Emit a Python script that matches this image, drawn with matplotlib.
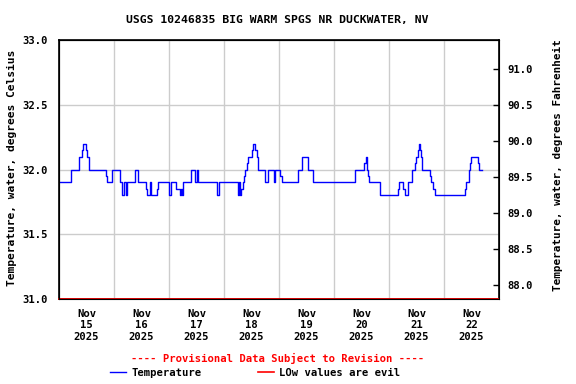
import matplotlib
matplotlib.use("Agg")
import matplotlib.pyplot as plt
import matplotlib.dates as mdates
from matplotlib.ticker import FixedLocator, FuncFormatter
import numpy as np
from datetime import datetime, timedelta

# ---- data ----
title = "USGS 10246835 BIG WARM SPGS NR DUCKWATER, NV"
start_time = datetime(2025, 11, 15, 0, 0)
end_time = datetime(2025, 11, 23, 0, 0)
# hours after start at which the reading changes, and the new value (deg C)
change_hours = [0, 5.2, 8.8, 9.9, 10.4, 11.6, 12.1, 12.9, 20.6, 20.9, 23.1, 26.4,
                27.7, 28.3, 29.2, 29.8, 33.0, 34.4, 37.9, 38.5, 39.5, 40.2, 42.6,
                43.4, 48.2, 48.9, 50.9, 52.6, 53.2, 53.6, 53.9, 57.7, 59.4, 60.0,
                60.5, 68.9, 69.6, 78.3, 78.7, 79.0, 79.5, 80.1, 80.6, 81.2, 82.1,
                82.4, 84.1, 84.7, 85.4, 86.2, 86.7, 89.7, 91.4, 93.7, 94.4, 96.6,
                97.2, 104.2, 105.9, 108.6, 110.7, 129.2, 133.3, 133.9, 134.2,
                134.8, 135.2, 140.1, 147.8, 148.3, 150.2, 150.8, 152.1, 153.9,
                155.4, 155.9, 156.6, 157.0, 157.7, 158.0, 158.6, 161.8, 162.4,
                163.1, 163.9, 177.2, 177.8, 178.7, 179.1, 179.4, 179.7, 182.7,
                183.3, 184.5]
temp_c = [31.9, 32.0, 32.1, 32.15, 32.2, 32.15, 32.1, 32.0, 31.95, 31.9, 32.0, 31.9,
          31.8, 31.9, 31.8, 31.9, 32.0, 31.9, 31.85, 31.8, 31.9, 31.8, 31.85,
          31.9, 31.8, 31.9, 31.85, 31.8, 31.85, 31.8, 31.9, 32.0, 31.9, 32.0,
          31.9, 31.8, 31.9, 31.8, 31.9, 31.8, 31.85, 31.9, 31.95, 32.0, 32.05,
          32.1, 32.15, 32.2, 32.15, 32.1, 32.0, 31.9, 32.0, 31.9, 32.0, 31.95,
          31.9, 32.0, 32.1, 32.0, 31.9, 32.0, 32.05, 32.1, 32.0,
          31.95, 31.9, 31.8, 31.85, 31.9, 31.85, 31.8, 31.9, 32.0,
          32.05, 32.1, 32.15, 32.2, 32.15, 32.1, 32.0, 31.95, 31.9,
          31.85, 31.8, 31.85, 31.9, 31.95, 32.0, 32.05, 32.1, 32.05,
          32.0, 32.0]
low_value_c = 31.0
y_ticks_c = [31.0, 31.5, 32.0, 32.5, 33.0]
y_ticks_f = [88.0, 88.5, 89.0, 89.5, 90.0, 90.5, 91.0]
series_label = "Temperature"
low_label = "LOw values are evil"
provisional_text = "---- Provisional Data Subject to Revision ----"
left_ylabel = "Temperature, water, degrees Celsius"
right_ylabel = "Temperature, water, degrees Fahrenheit"

# ---- figure ----
FONT = "DejaVu Sans Mono"
fs = 7.6
fig = plt.figure(figsize=(5.76, 3.84), dpi=100)
ax = fig.add_axes([59 / 576, 85 / 384, 440 / 576, 259 / 384])

times = [start_time + timedelta(hours=h) for h in change_hours]
ax.plot(times, temp_c, drawstyle="steps-post", color="#0000ff", lw=1.0,
        label=series_label, zorder=3)
ax.plot([start_time, end_time], [low_value_c, low_value_c], color="#ff0000",
        lw=1.2, label=low_label, zorder=5, clip_on=False)

ax.set_xlim(start_time, end_time)
ax.set_ylim(31.0, 33.0)

# x ticks: labels at noon, grid at midnight
days = [start_time + timedelta(days=i) for i in range(9)]
noons = [d + timedelta(hours=12) for d in days[:-1]]
ax.xaxis.set_major_locator(FixedLocator(mdates.date2num(noons)))
ax.xaxis.set_minor_locator(FixedLocator(mdates.date2num(days)))
ax.xaxis.set_major_formatter(FuncFormatter(
    lambda v, p: mdates.num2date(v).strftime("%b\n%d\n%Y")))
ax.tick_params(axis="x", which="major", length=0, pad=7)
ax.tick_params(axis="x", which="minor", length=0)
ax.grid(True, which="minor", axis="x", color="#cccccc", lw=1)
ax.set_yticks(y_ticks_c)
ax.yaxis.set_major_formatter(FuncFormatter(lambda v, p: f"{v:.1f}"))
ax.grid(True, which="major", axis="y", color="#cccccc", lw=1)
ax.tick_params(axis="y", direction="in", length=0, pad=8)
ax.set_axisbelow(True)

for lab in ax.get_xticklabels() + ax.get_yticklabels():
    lab.set_fontfamily(FONT)
    lab.set_fontweight("bold")
    lab.set_fontsize(fs)

for sp in ax.spines.values():
    sp.set_linewidth(1.2)
    sp.set_color("black")

# right axis in Fahrenheit
ax2 = ax.twinx()
ax2.set_ylim(31.0 * 1.8 + 32, 33.0 * 1.8 + 32)
ax2.set_yticks(y_ticks_f)
ax2.yaxis.set_major_formatter(FuncFormatter(lambda v, p: f"{v:.1f}"))
ax2.tick_params(axis="y", direction="in", length=4, width=1, pad=6)
for lab in ax2.get_yticklabels():
    lab.set_fontfamily(FONT)
    lab.set_fontweight("bold")
    lab.set_fontsize(fs)

# titles / labels
fig.text(277 / 576, 1 - 20 / 384, title, ha="center", va="center",
         fontfamily=FONT, fontweight="bold", fontsize=8.2)
fig.text(12 / 576, 1 - 168 / 384, left_ylabel, rotation=90, ha="center",
         va="center", fontfamily=FONT, fontweight="bold", fontsize=8.1)
fig.text(558 / 576, 1 - 165 / 384, right_ylabel, rotation=90, ha="center",
         va="center", fontfamily=FONT, fontweight="bold", fontsize=7.9)
fig.text(278 / 576, 1 - 358 / 384, provisional_text, ha="center", va="center",
         color="#ff0000", fontfamily=FONT, fontweight="bold", fontsize=fs)

handles, labels = ax.get_legend_handles_labels()
leg = fig.legend(handles, labels, loc="center left",
                 bbox_to_anchor=(110 / 576, 1 - 372.5 / 384), ncol=2,
                 frameon=False, borderpad=0, borderaxespad=0,
                 handlelength=1.5, handletextpad=0.5, columnspacing=5.4,
                 prop={"family": FONT, "weight": "bold", "size": fs})

fig.savefig("out.png", dpi=100)
